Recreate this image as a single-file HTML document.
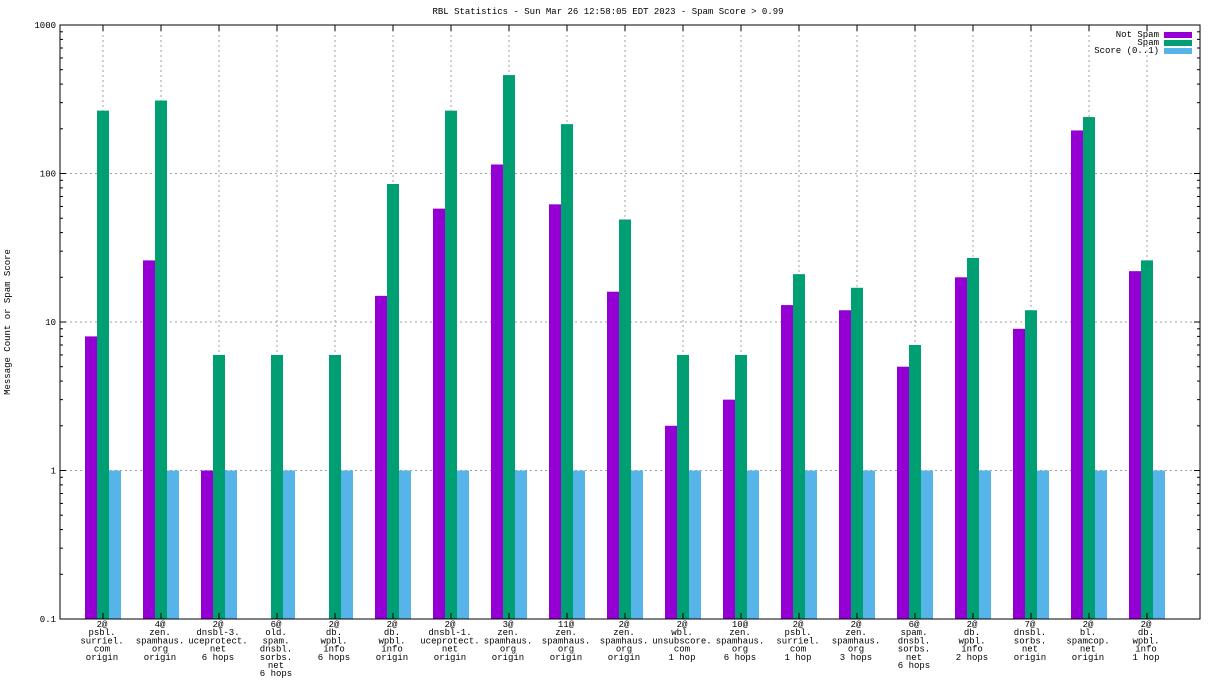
<!DOCTYPE html>
<html><head><meta charset="utf-8"><style>
body{margin:0;background:#fff;}
svg text{font-family:"Liberation Mono","DejaVu Sans Mono",monospace;font-size:9px;fill:#000;}
</style></head><body>
<svg id="chart" width="1216" height="684" xmlns="http://www.w3.org/2000/svg">
<rect width="1216" height="684" fill="#fff"/>
<text x="608" y="14" text-anchor="middle">RBL Statistics - Sun Mar 26 12:58:05 EDT 2023 - Spam Score &gt; 0.99</text>
<text transform="translate(10,322) rotate(-90)" text-anchor="middle">Message Count or Spam Score</text>
<g id="grid"></g><g id="bars"></g><g id="axes"></g><g id="labels"></g>
<g>
<text x="1159" y="37" text-anchor="end">Not Spam</text>
<rect x="1164" y="32" width="28" height="6" fill="#9400d3"/>
<text x="1159" y="45" text-anchor="end">Spam</text>
<rect x="1164" y="40" width="28" height="6" fill="#009e73"/>
<text x="1159" y="53" text-anchor="end">Score (0..1)</text>
<rect x="1164" y="48" width="28" height="6" fill="#56b4e9"/>
</g>
</svg>
<script>
const categories=[["2@","psbl.","surriel.","com","origin"],["4@","zen.","spamhaus.","org","origin"],["2@","dnsbl-3.","uceprotect.","net","6 hops"],["6@","old.","spam.","dnsbl.","sorbs.","net","6 hops"],["2@","db.","wpbl.","info","6 hops"],["2@","db.","wpbl.","info","origin"],["2@","dnsbl-1.","uceprotect.","net","origin"],["3@","zen.","spamhaus.","org","origin"],["11@","zen.","spamhaus.","org","origin"],["2@","zen.","spamhaus.","org","origin"],["2@","wbl.","unsubscore.","com","1 hop"],["10@","zen.","spamhaus.","org","6 hops"],["2@","psbl.","surriel.","com","1 hop"],["2@","zen.","spamhaus.","org","3 hops"],["6@","spam.","dnsbl.","sorbs.","net","6 hops"],["2@","db.","wpbl.","info","2 hops"],["7@","dnsbl.","sorbs.","net","origin"],["2@","bl.","spamcop.","net","origin"],["2@","db.","wpbl.","info","1 hop"]];
const notSpam=[8,26,1,0,0,15,58,115,62,16,2,3,13,12,5,20,9,195,22];
const spam=[265,310,6,6,6,85,265,460,215,49,6,6,21,17,7,27,12,240,26];
const score=[1,1,1,1,1,1,1,1,1,1,1,1,1,1,1,1,1,1,1];
const yTicks=[0.1,1,10,100,1000];
const yTickLabels=["0.1","1","10","100","1000"];
const L=60,R=1200,T=25,B=619;
const NS="http://www.w3.org/2000/svg";
function y(v){return B-(Math.log10(v)+1)/4*(B-T);}
function xc(i){return 103+i*58;}
function mk(tag,attrs,parent){const e=document.createElementNS(NS,tag);for(const k in attrs)e.setAttribute(k,attrs[k]);document.getElementById(parent).appendChild(e);return e;}
yTicks.forEach((v,i)=>{
 const g=mk('line',{x1:L,x2:R,y1:y(v),y2:y(v),stroke:'#a0a0a0','stroke-dasharray':'2,3','stroke-width':1},'grid');
 
 
 const t=mk('text',{x:L-4,y:y(v)+3,'text-anchor':'end'},'axes');t.textContent=yTickLabels[i];
 
 
 mk('line',{x1:L,x2:L+6,y1:y(v),y2:y(v),stroke:'#000'},'axes');
 mk('line',{x1:R,x2:R-6,y1:y(v),y2:y(v),stroke:'#000'},'axes');
 if(v<1000)for(let m=2;m<10;m++){const yy=y(v*m);mk('line',{x1:L,x2:L+3,y1:yy,y2:yy,stroke:'#000'},'axes');mk('line',{x1:R,x2:R-3,y1:yy,y2:yy,stroke:'#000'},'axes');}
});
categories.forEach((c,i)=>{
 const gl=mk('line',{x1:xc(i),x2:xc(i),y1:T,y2:B,stroke:'#a0a0a0','stroke-dasharray':'2,3'},'grid');
 
 
 mk('line',{x1:xc(i),x2:xc(i),y1:B,y2:B-6,stroke:'#000'},'axes');
 mk('line',{x1:xc(i),x2:xc(i),y1:T,y2:T+6,stroke:'#000'},'axes');
 const t=mk('text',{x:xc(i)-1,y:627,'text-anchor':'middle'},'labels');
 
 
 c.forEach((s,j)=>{const ts=document.createElementNS(NS,'tspan');ts.setAttribute('x',xc(i)-1);ts.setAttribute('dy',j?8.2:0);ts.textContent=s;t.appendChild(ts);});
 [[notSpam,'#9400d3',-18,'bar-not-spam'],[spam,'#009e73',-6,'bar-spam'],[score,'#56b4e9',6,'bar-score']].forEach(([arr,col,off,nm])=>{
  const v=arr[i]; if(!(v>0.1))return;
  const r=mk('rect',{x:xc(i)+off,y:y(v),width:12,height:B-y(v),fill:col},'bars');
  
  
 });
});
const f=mk('rect',{x:L,y:T,width:R-L,height:B-T,fill:'none',stroke:'#000'},'axes');


</script>
</body></html>
